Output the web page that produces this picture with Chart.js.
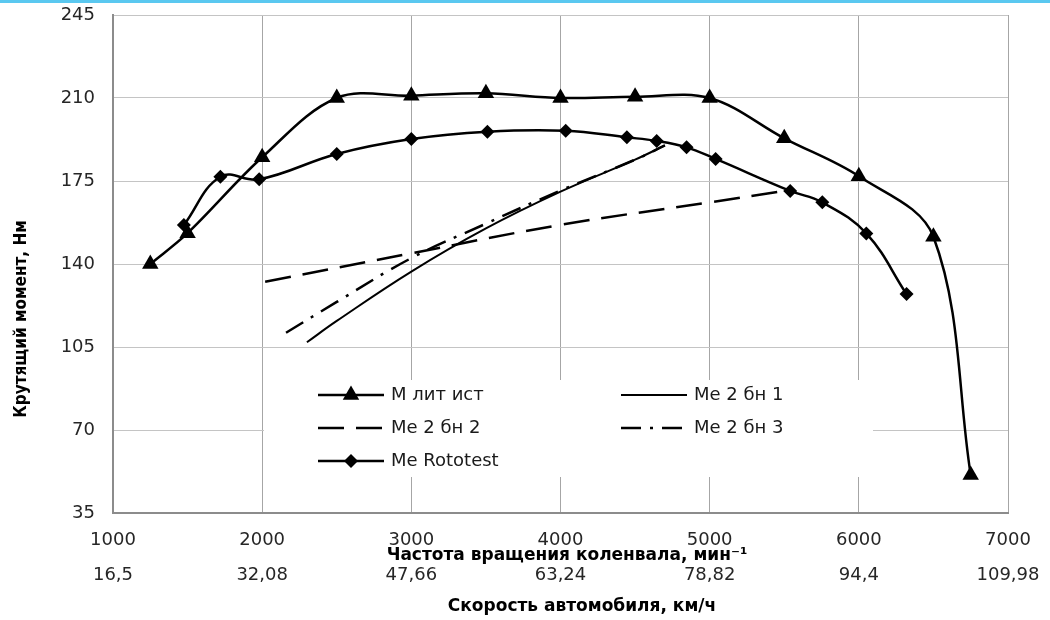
<!DOCTYPE html>
<html>
<head>
<meta charset="utf-8">
<script src="https://cdn.jsdelivr.net/npm/chart.js@4.4.1/dist/chart.umd.min.js"></script>
<style>
    html, body { margin: 0; padding: 0; background: #fff; }
    #graph { display: block; }
</style>
</head>
<body>
<canvas id="graph" width="1050" height="620"></canvas>
<script>
// Шкалы
const rpmTicks = [1000, 2000, 3000, 4000, 5000, 6000, 7000];
const speedLabels = ['16,5', '32,08', '47,66', '63,24', '78,82', '94,4', '109,98'];
const torqueTicks = [35, 70, 105, 140, 175, 210, 245];

// М лит ист
const litRpm = [1250, 1500, 2000, 2500, 3000, 3500, 4000, 4500, 5000, 5500, 6000, 6500, 6750];
const litTorque = [140, 153, 185, 210, 211, 212, 210, 210.5, 210, 193, 177, 151.5, 51];

// Me 2 бн 1
const bn1Rpm = [2300, 2500, 3000, 3500, 4000, 4500, 4700];
const bn1Torque = [107, 116, 136.8, 155, 170.5, 184, 190];

// Me 2 бн 2
const bn2Rpm = [2020, 3000, 4000, 5000, 5520];
const bn2Torque = [132.5, 144.5, 156.5, 166, 171];

// Me 2 бн 3
const bn3Rpm = [2160, 2500, 3000, 3500, 4000, 4500, 4700];
const bn3Torque = [111, 124, 142.5, 157, 171, 184, 190];

// Me Rototest
const rotoRpm = [1475, 1720, 1980, 2500, 3000, 3510, 4035, 4445, 4645, 4845, 5040, 5540, 5755, 6050, 6320];
const rotoTorque = [156.4, 176.8, 175.7, 186.4, 192.7, 195.8, 196.2, 193.4, 191.9, 189.2, 184.3, 170.8, 166, 152.9, 127.3];

function pares(xs, ys) {
    return xs.map((x, i) => ({ x: x, y: ys[i] }));
}

const tickFont = { family: 'DejaVu Sans', size: 18 };
const titleFont = 'bold 17px "DejaVu Sans"';

// Легенда внутри области графика
const legendaPlugin = {
    id: 'legenda',
    afterDraw(chart) {
        const c = chart.ctx;
        c.save();
        c.fillStyle = '#fff';
        c.fillRect(264, 380, 609, 97);
        const colX = [318, 621];
        const rowY = [395, 428, 461];
        chart.data.datasets.forEach((ds, i) => {
            const x0 = colX[i % 2];
            const y = rowY[Math.floor(i / 2)];
            c.strokeStyle = '#000';
            c.lineWidth = ds.borderWidth;
            c.setLineDash(ds.borderDash || []);
            c.beginPath();
            c.moveTo(x0, y);
            c.lineTo(x0 + 66, y);
            c.stroke();
            c.setLineDash([]);
            if (ds.pointRadius > 0) {
                c.fillStyle = '#000';
                Chart.helpers.drawPoint(c, { pointStyle: ds.pointStyle, radius: ds.pointRadius, rotation: 0, borderWidth: 0 }, x0 + 33, y);
            }
            c.fillStyle = '#1a1a1a';
            c.font = '18px "DejaVu Sans"';
            c.textBaseline = 'middle';
            c.textAlign = 'left';
            c.fillText(ds.label, x0 + 73, y);
        });
        c.restore();
    }
};

// Подписи осей и полоса сверху
const titulosPlugin = {
    id: 'titulos',
    beforeDraw(chart) {
        const c = chart.ctx;
        c.save();
        c.fillStyle = '#5ac8f0';
        c.fillRect(0, 0, 1050, 3);
        c.restore();
    },
    afterDraw(chart) {
        const c = chart.ctx;
        c.save();
        c.fillStyle = '#000';
        c.textAlign = 'center';
        c.textBaseline = 'middle';
        c.font = titleFont;
        c.fillText('Частота вращения коленвала, мин⁻¹', 567, 556);
        c.fillText('Скорость автомобиля, км/ч', 582, 607);
        c.translate(22, 319);
        c.rotate(-Math.PI / 2);
        c.font = 'bold 17px "DejaVu Sans Condensed", "DejaVu Sans"';
        c.fillText('Крутящий момент, Нм', 0, 0);
        c.restore();
    }
};

const ctx = document.getElementById('graph').getContext('2d');

const data = {
    datasets: [
        {
            label: 'М лит ист',
            data: pares(litRpm, litTorque),
            borderColor: '#000', backgroundColor: '#000',
            borderWidth: 2.5, tension: 0.35,
            pointStyle: 'triangle', pointRadius: 9.5, pointBorderWidth: 0
        },
        {
            label: 'Me 2 бн 1',
            data: pares(bn1Rpm, bn1Torque),
            borderColor: '#000', borderWidth: 2, tension: 0.4, pointRadius: 0
        },
        {
            label: 'Me 2 бн 2',
            data: pares(bn2Rpm, bn2Torque),
            borderColor: '#000', borderWidth: 2.5, tension: 0.4, pointRadius: 0,
            borderDash: [26, 12]
        },
        {
            label: 'Me 2 бн 3',
            data: pares(bn3Rpm, bn3Torque),
            borderColor: '#000', borderWidth: 2.5, tension: 0.4, pointRadius: 0,
            borderDash: [20, 9, 3, 9]
        },
        {
            label: 'Me Rototest',
            data: pares(rotoRpm, rotoTorque),
            borderColor: '#000', backgroundColor: '#000',
            borderWidth: 2.5, tension: 0.4,
            pointStyle: 'rectRot', pointRadius: 7, pointBorderWidth: 0
        }
    ]
};

function semPadding(s) {
    s.paddingTop = 0;
    s.paddingBottom = 0;
    s.paddingLeft = 0;
    s.paddingRight = 0;
}

const config = {
    type: 'line',
    data: data,
    options: {
        responsive: false,
        animation: false,
        devicePixelRatio: 1,
        layout: { padding: { top: 15, right: 42, bottom: 0, left: 0 } },
        plugins: {
            legend: { display: false },
            tooltip: { enabled: false }
        },
        scales: {
            x: {
                type: 'linear', position: 'bottom',
                min: rpmTicks[0], max: rpmTicks[rpmTicks.length - 1],
                afterBuildTicks: s => { s.ticks = rpmTicks.map(v => ({ value: v })); },
                ticks: {
                    padding: 17, color: '#262626', font: tickFont, maxRotation: 0, autoSkip: false,
                    callback: v => String(v)
                },
                grid: { color: '#a6a6a6', lineWidth: 1, drawTicks: false },
                border: { color: '#8c8c8c', width: 2 },
                afterFit: s => { s.height = 46; semPadding(s); }
            },
            x2: {
                type: 'linear', position: 'bottom',
                min: rpmTicks[0], max: rpmTicks[rpmTicks.length - 1],
                afterBuildTicks: s => { s.ticks = rpmTicks.map(v => ({ value: v })); },
                ticks: {
                    padding: 6, color: '#262626', font: tickFont, maxRotation: 0, autoSkip: false,
                    callback: v => speedLabels[rpmTicks.indexOf(v)]
                },
                grid: { display: false, drawTicks: false },
                border: { display: false },
                afterFit: s => { s.height = 61; semPadding(s); }
            },
            y: {
                min: torqueTicks[0], max: torqueTicks[torqueTicks.length - 1],
                afterBuildTicks: s => { s.ticks = torqueTicks.map(v => ({ value: v })); },
                ticks: { padding: 18, color: '#262626', font: tickFont },
                grid: { color: '#c4c4c4', lineWidth: 1, drawTicks: false },
                border: { color: '#8c8c8c', width: 2 },
                afterFit: s => { s.width = 113; semPadding(s); }
            }
        }
    },
    plugins: [titulosPlugin, legendaPlugin]
};

const myChart = new Chart(ctx, config);
</script>
</body>
</html>
